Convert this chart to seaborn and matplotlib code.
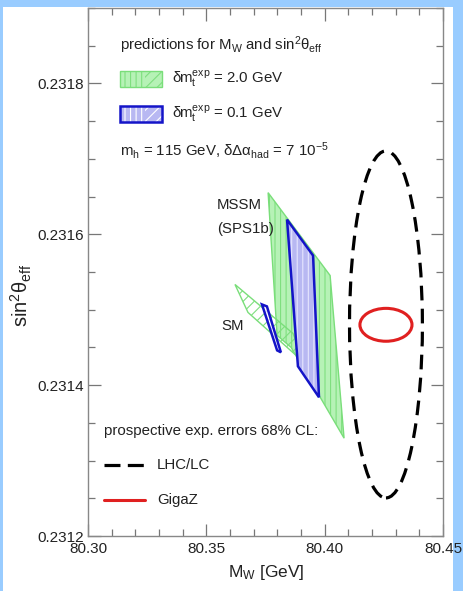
import numpy as np
import pandas as pd
import seaborn as sns
import matplotlib
matplotlib.use("Agg")
import matplotlib.pyplot as plt
from matplotlib.patches import Ellipse, Rectangle, Polygon

# ---------------- data ----------------
mssm_wide_mw = [80.3761, 80.4023, 80.4082, 80.3858, 80.3799]
mssm_wide_s2 = [0.2316552, 0.2315454, 0.2313297, 0.2314501, 0.2314660]
mssm_narrow_mw = [80.3841, 80.3951, 80.3976, 80.3887]
mssm_narrow_s2 = [0.2316195, 0.2315718, 0.2313839, 0.2314250]
sm_wide_mw = [80.3621, 80.3866, 80.3917, 80.3676]
sm_wide_s2 = [0.2315335, 0.2314686, 0.2314289, 0.2314964]
sm_narrow_mw = [80.3735, 80.3756, 80.3815, 80.3799]
sm_narrow_s2 = [0.2315070, 0.2315044, 0.2314435, 0.2314461]
lhc_center = [80.4259, 0.2314805]
lhc_halfwidths = [0.0154, 0.000230]
gigaz_center = [80.4259, 0.2314800]
gigaz_halfwidths = [0.0110, 0.0000218]
x_ticks = [80.30, 80.35, 80.40, 80.45]
x_tick_labels = ["80.30", "80.35", "80.40", "80.45"]
y_ticks = [0.2312, 0.2314, 0.2316, 0.2318]
y_tick_labels = ["0.2312", "0.2314", "0.2316", "0.2318"]
x_range = [80.30, 80.45]
y_range = [0.2312, 0.2319]

sns.set_style("ticks")
FAM = ["Liberation Sans", "DejaVu Sans"]
plt.rcParams["font.family"] = FAM
plt.rcParams["mathtext.fontset"] = "custom"
plt.rcParams["mathtext.rm"] = "Liberation Sans"
plt.rcParams["mathtext.it"] = "Liberation Sans:italic"
plt.rcParams["mathtext.bf"] = "Liberation Sans:bold"
plt.rcParams["hatch.linewidth"] = 0.8

TXT = "#222222"
GREEN_FILL = "#b6f2b6"
GREEN_HATCH = "#7fdf7f"
GREEN_EDGE = "#7ade7a"
BLUE_FILL = "#b8b8f2"
BLUE_HATCH = "#e6e6ff"
BLUE_EDGE = "#1414c8"

fig = plt.figure(figsize=(4.64, 5.91), dpi=100, facecolor="#99ccff")
fig.patches.append(Rectangle((3.5 / 464, 0), (453 - 3.5) / 464, (591 - 7) / 591,
                             transform=fig.transFigure, facecolor="white",
                             edgecolor="none", zorder=-10))
ax = fig.add_axes([88 / 464, 55 / 591, 355 / 464, 528 / 591])
ax.set_facecolor("white")


def hatched_poly(xs, ys, fill, hatchcol, hatch, edge, lw, z):
    pts = np.column_stack([xs, ys])
    ax.add_patch(Polygon(pts, closed=True, facecolor=fill, edgecolor=hatchcol,
                         hatch=hatch, linewidth=0, zorder=z))
    ax.add_patch(Polygon(pts, closed=True, facecolor="none", edgecolor=edge,
                         linewidth=lw, zorder=z + 0.1, joinstyle="miter"))


# MSSM, dm_t = 2.0 GeV
hatched_poly(mssm_wide_mw, mssm_wide_s2, GREEN_FILL, GREEN_HATCH, "|||", GREEN_EDGE, 1.0, 2)
# SM, dm_t = 2.0 GeV
hatched_poly(sm_wide_mw, sm_wide_s2, "none", GREEN_HATCH, "///", GREEN_EDGE, 1.0, 3)
# MSSM, dm_t = 0.1 GeV
hatched_poly(mssm_narrow_mw, mssm_narrow_s2, BLUE_FILL, BLUE_HATCH, "|||", BLUE_EDGE, 1.8, 4)
# SM, dm_t = 0.1 GeV
hatched_poly(sm_narrow_mw, sm_narrow_s2, "white", "#d8d8ff", "///", BLUE_EDGE, 1.8, 5)

# prospective errors
ax.add_patch(Ellipse(lhc_center, 2 * lhc_halfwidths[0], 2 * lhc_halfwidths[1],
                     facecolor="none", edgecolor="black", linewidth=2.3,
                     linestyle=(0, (4.6, 2.6)), zorder=6))
ax.add_patch(Ellipse(gigaz_center, 2 * gigaz_halfwidths[0], 2 * gigaz_halfwidths[1],
                     facecolor="none", edgecolor="#e02020", linewidth=2.2, zorder=6))

ax.set_xlim(*x_range)
ax.set_ylim(*y_range)
ax.set_xticks(x_ticks)
ax.set_xticklabels(x_tick_labels)
ax.set_yticks(y_ticks)
ax.set_yticklabels(y_tick_labels)
ax.set_xticks(np.arange(80.30, 80.4501, 0.01), minor=True)
ax.set_yticks(np.arange(0.2312, 0.23190001, 0.00005), minor=True)
ax.tick_params(which="both", direction="in", top=True, right=True, color="#777777",
               width=0.9, labelcolor=TXT, labelsize=11)
ax.tick_params(which="major", length=9)
ax.tick_params(which="minor", length=5)
ax.tick_params(axis="x", pad=4)
ax.tick_params(axis="y", pad=3)
for sp in ax.spines.values():
    sp.set_color("#888888")
    sp.set_linewidth(1.0)

ax.set_xlabel(r"M$_{\mathrm{W}}$ [GeV]", fontsize=12.5, color=TXT)
ax.xaxis.set_label_coords(0.501, -0.051)
ax.set_ylabel(r"sin$^{2}$θ$_{\mathrm{eff}}$", fontsize=14.5, color=TXT)
ax.yaxis.set_label_coords(-0.152, 0.456)

# annotations / legend block
fs = 10.8
T = ax.transAxes
ax.text(0.090, 0.930, r"predictions for M$_{\mathrm{W}}$ and sin$^{2}$θ$_{\mathrm{eff}}$",
        transform=T, fontsize=fs, color=TXT, va="center", ha="left")


def legend_patch(y0, y1, fill, hatchcol, edge, lw):
    xa, xm, xb = 0.090, 0.160, 0.208
    ax.add_patch(Rectangle((xa, y0), xm - xa, y1 - y0, transform=T, facecolor=fill,
                           edgecolor=hatchcol, hatch="|||", linewidth=0, zorder=7))
    ax.add_patch(Rectangle((xm, y0), xb - xm, y1 - y0, transform=T, facecolor=fill,
                           edgecolor=hatchcol, hatch="///", linewidth=0, zorder=7))
    ax.add_patch(Rectangle((xa, y0), xb - xa, y1 - y0, transform=T, facecolor="none",
                           edgecolor=edge, linewidth=lw, zorder=7.1))


legend_patch(0.850, 0.881, GREEN_FILL, GREEN_HATCH, GREEN_EDGE, 1.0)
legend_patch(0.784, 0.815, BLUE_FILL, "#ffffff", BLUE_EDGE, 1.8)
ax.text(0.237, 0.864, r"δm$_{\mathrm{t}}^{\mathrm{exp}}$ = 2.0 GeV", transform=T,
        fontsize=fs, color=TXT, va="center", ha="left")
ax.text(0.237, 0.799, r"δm$_{\mathrm{t}}^{\mathrm{exp}}$ = 0.1 GeV", transform=T,
        fontsize=fs, color=TXT, va="center", ha="left")
ax.text(0.090, 0.731, r"m$_{\mathrm{h}}$ = 115 GeV, δΔα$_{\mathrm{had}}$ = 7 10$^{\mathrm{-5}}$",
        transform=T, fontsize=fs, color=TXT, va="center", ha="left")
ax.text(0.363, 0.627, "MSSM", transform=T, fontsize=fs, color=TXT, va="center", ha="left")
ax.text(0.363, 0.581, "(SPS1b)", transform=T, fontsize=fs, color=TXT, va="center", ha="left")
ax.text(0.375, 0.398, "SM", transform=T, fontsize=fs, color=TXT, va="center", ha="left")
ax.text(0.045, 0.199, "prospective exp. errors 68% CL:", transform=T, fontsize=fs,
        color=TXT, va="center", ha="left")
ax.plot([0.045, 0.161], [0.134, 0.134], transform=T, color="black", lw=2.3,
        linestyle=(0, (5.0, 2.3)))
ax.text(0.194, 0.134, "LHC/LC", transform=T, fontsize=fs, color=TXT, va="center", ha="left")
ax.plot([0.045, 0.161], [0.068, 0.068], transform=T, color="#e02020", lw=2.2)
ax.text(0.194, 0.068, "GigaZ", transform=T, fontsize=fs, color=TXT, va="center", ha="left")

fig.savefig("out.png", dpi=100, facecolor=fig.get_facecolor())
